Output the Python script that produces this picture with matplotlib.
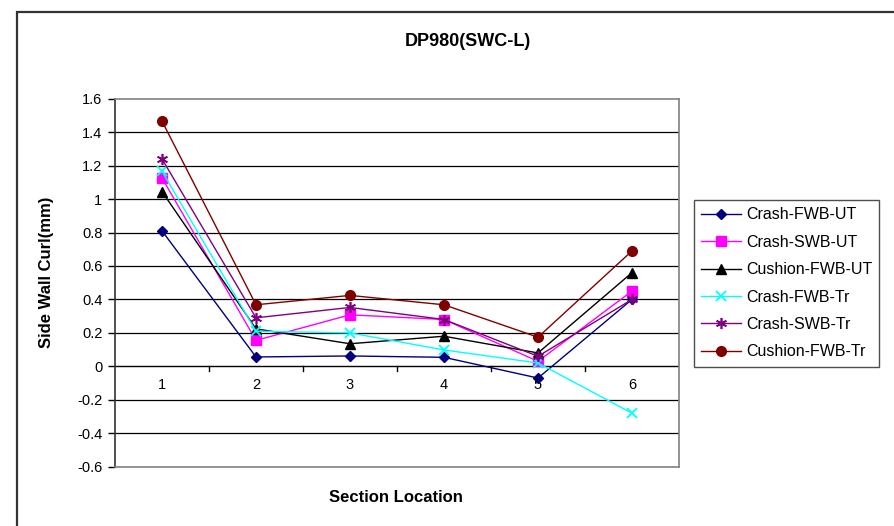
import matplotlib
matplotlib.use("Agg")
import matplotlib.pyplot as plt
from matplotlib.patches import Rectangle

plt.rcParams['font.family'] = ['Liberation Sans', 'DejaVu Sans']

sections = [1, 2, 3, 4, 5, 6]
section_labels = ['1', '2', '3', '4', '5', '6']

crash_fwb_ut = [0.81, 0.056, 0.062, 0.054, -0.07, 0.40]
crash_swb_ut = [1.126, 0.155, 0.308, 0.28, 0.03, 0.45]
cushion_fwb_ut = [1.045, 0.224, 0.135, 0.18, 0.08, 0.56]
crash_fwb_tr = [1.166, 0.21, 0.20, 0.098, 0.02, -0.28]
crash_swb_tr = [1.24, 0.29, 0.352, 0.28, 0.06, 0.40]
cushion_fwb_tr = [1.466, 0.368, 0.424, 0.368, 0.174, 0.69]

series_names = ['Crash-FWB-UT', 'Crash-SWB-UT', 'Cushion-FWB-UT',
                'Crash-FWB-Tr', 'Crash-SWB-Tr', 'Cushion-FWB-Tr']
series_values = [crash_fwb_ut, crash_swb_ut, cushion_fwb_ut,
                 crash_fwb_tr, crash_swb_tr, cushion_fwb_tr]

y_ticks = [-0.6, -0.4, -0.2, 0, 0.2, 0.4, 0.6, 0.8, 1, 1.2, 1.4, 1.6]
y_tick_labels = ['-0.6', '-0.4', '-0.2', '0', '0.2', '0.4', '0.6', '0.8',
                 '1', '1.2', '1.4', '1.6']

styles = [
    dict(color='#000080', marker='D', markersize=5.5, mec='#000080', mfc='#000080'),
    dict(color='#FF00FF', marker='s', markersize=7, mec='#FF00FF', mfc='#FF00FF'),
    dict(color='#000000', marker='^', markersize=7.5, mec='#000000', mfc='#000000'),
    dict(color='#00FFFF', marker='x', markersize=7, mec='#00FFFF', mew=1.3),
    dict(color='#800080', marker=(6, 2, 0), markersize=8, mec='#800080', mew=1.2),
    dict(color='#800000', marker='o', markersize=7, mec='#800000', mfc='#800000'),
]

fig = plt.figure(figsize=(8.95, 5.26), dpi=100)

# chart frame
fig.patches.append(Rectangle((16.5 / 895, -0.05), 1.0, 1 - 12 / 526 + 0.05,
                             transform=fig.transFigure, fill=False,
                             edgecolor='#333333', linewidth=1.6))

left, right = 115 / 895, 679 / 895
bottom, top = 1 - 466.7 / 526, 1 - 98.7 / 526
ax = fig.add_axes([left, bottom, right - left, top - bottom])

ax.set_xlim(0.5, 6.5)
ax.set_ylim(-0.6, 1.6)

# horizontal gridlines
for yv in y_ticks[1:-1]:
    if yv != 0:
        ax.axhline(yv, color='black', linewidth=0.9, zorder=1)

lines = []
for name, vals, st in zip(series_names, series_values, styles):
    ln, = ax.plot(sections, vals, linewidth=1.0, label=name, zorder=3, **st)
    lines.append(ln)

# category axis crossing at zero
ax.axhline(0, color='black', linewidth=1.0, zorder=2)
for xv in [1.5, 2.5, 3.5, 4.5, 5.5]:
    ax.plot([xv, xv], [0, -0.03], color='black', linewidth=1.0, zorder=2,
            clip_on=False)
for xv, lab in zip(sections, section_labels):
    ax.text(xv, -0.07, lab, ha='center', va='top', fontsize=10.5)

ax.set_xticks([])
ax.set_yticks(y_ticks)
ax.set_yticklabels(y_tick_labels, fontsize=10.5)
ax.tick_params(axis='y', direction='out', length=5, width=1, pad=4)

for side in ['top', 'right', 'bottom']:
    ax.spines[side].set_color('#808080')
    ax.spines[side].set_linewidth(1.2)
ax.spines['left'].set_color('#333333')
ax.spines['left'].set_linewidth(1.2)

fig.text(468 / 895, 1 - 42 / 526, 'DP980(SWC-L)', ha='center', va='center',
         fontsize=13, fontweight='bold')
fig.text(396 / 895, 1 - 497 / 526, 'Section Location', ha='center',
         va='center', fontsize=12, fontweight='bold')
fig.text(47 / 895, 1 - 272 / 526, 'Side Wall Curl(mm)', ha='center',
         va='center', fontsize=12, fontweight='bold', rotation=90)

leg = fig.legend(handles=lines, loc='upper left',
                 bbox_to_anchor=(694 / 895, 1 - 200 / 526),
                 fontsize=11.5, frameon=True, fancybox=False,
                 edgecolor='#222222', borderpad=0.45, labelspacing=0.78,
                 handlelength=2.5, handletextpad=0.3, borderaxespad=0)
leg.get_frame().set_linewidth(1.0)

fig.savefig('out.png', dpi=100)
